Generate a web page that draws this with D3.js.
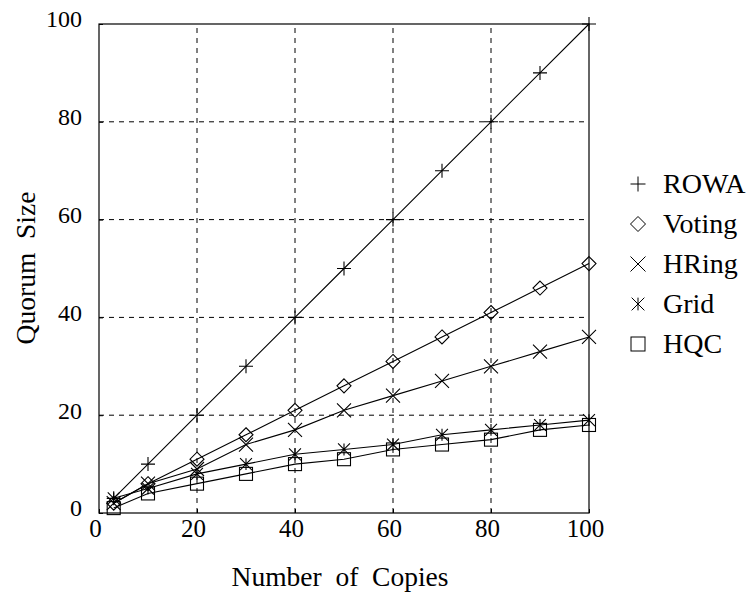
<!DOCTYPE html>
<html>
<head>
<meta charset="utf-8">
<script src="https://cdn.jsdelivr.net/npm/d3@7"></script>
<style>
  body { margin: 0; background: #fff; }
  svg text { font-family: "Liberation Serif", "Times New Roman", serif; fill: #000; }
</style>
</head>
<body>
<svg id="chart"></svg>
<script>
// ---- data ----
const copies = [3, 10, 20, 30, 40, 50, 60, 70, 80, 90, 100];
const rowa   = [3, 10, 20, 30, 40, 50, 60, 70, 80, 90, 100];
const voting = [2, 6, 11, 16, 21, 26, 31, 36, 41, 46, 51];
const hring  = [2, 6, 9, 14, 17, 21, 24, 27, 30, 33, 36];
const grid   = [3, 5, 8, 10, 12, 13, 14, 16, 17, 18, 19];
const hqc    = [1, 4, 6, 8, 10, 11, 13, 14, 15, 17, 18];

const seriesNames = ["ROWA", "Voting", "HRing", "Grid", "HQC"];
const seriesValues = [rowa, voting, hring, grid, hqc];
const symbols = ["plus", "diamond", "cross", "star", "square"];

const gridTicks = [20, 40, 60, 80];
const axisTicks = [0, 20, 40, 60, 80, 100];

// ---- setup ----
const width = 751, height = 593;
const margin = { top: 24, right: 162, bottom: 80, left: 99 };

const svg = d3.select("#chart").attr("width", width).attr("height", height);

const x = d3.scaleLinear().domain([0, 100]).range([margin.left, width - margin.right]);
const y = d3.scaleLinear().domain([0, 100]).range([height - margin.bottom, margin.top]);

// dashed grid
svg.append("g")
    .selectAll("line")
    .data(gridTicks)
    .join("line")
    .attr("x1", d => x(d)).attr("x2", d => x(d))
    .attr("y1", y(0)).attr("y2", y(100))
    .attr("stroke", "#000").attr("stroke-width", 1)
    .attr("stroke-dasharray", "5,5");

svg.append("g")
    .selectAll("line")
    .data(gridTicks)
    .join("line")
    .attr("x1", x(0)).attr("x2", x(100))
    .attr("y1", d => y(d)).attr("y2", d => y(d))
    .attr("stroke", "#000").attr("stroke-width", 1)
    .attr("stroke-dasharray", "5,5");

// axes (labels + small inner ticks, box drawn separately)
const xAxis = svg.append("g")
    .attr("transform", `translate(0, ${y(0)})`)
    .call(d3.axisBottom(x).tickValues(axisTicks).tickSize(-4).tickPadding(9));

const yAxis = svg.append("g")
    .attr("transform", `translate(${x(0)}, 0)`)
    .call(d3.axisLeft(y).tickValues(axisTicks).tickSize(-4).tickPadding(17));

[xAxis, yAxis].forEach(a => {
    a.select(".domain").remove();
    a.selectAll(".tick line").attr("stroke", "#000");
    a.selectAll("text").attr("fill", "#000");
});
yAxis.selectAll("text").style("font-size", "24px").attr("dy", "0.12em");
xAxis.selectAll("text").style("font-size", "25px").attr("dy", "0.6em").attr("dx", -4);

// plot box
svg.append("rect")
    .attr("x", x(0)).attr("y", y(100))
    .attr("width", x(100) - x(0)).attr("height", y(0) - y(100))
    .attr("fill", "none").attr("stroke", "#000").attr("stroke-width", 1.2);

// ---- markers ----
function drawSymbol(g, type, cx, cy, s) {
    if (type === "plus") {
        g.append("path").attr("d", `M${cx - s},${cy}H${cx + s}M${cx},${cy - s}V${cy + s}`);
    } else if (type === "cross") {
        g.append("path").attr("d", `M${cx - s},${cy - s}L${cx + s},${cy + s}M${cx - s},${cy + s}L${cx + s},${cy - s}`);
    } else if (type === "diamond") {
        g.append("path").attr("d", `M${cx},${cy - s}L${cx + s},${cy}L${cx},${cy + s}L${cx - s},${cy}Z`);
    } else if (type === "square") {
        g.append("rect").attr("x", cx - s + 0.5).attr("y", cy - s + 0.5)
            .attr("width", 2 * s - 1).attr("height", 2 * s - 1);
    } else if (type === "star") {
        const r = s * 0.85;
        g.append("path").attr("d",
            `M${cx},${cy - r}V${cy + r}M${cx - r},${cy - r}L${cx + r},${cy + r}M${cx - r},${cy + r}L${cx + r},${cy - r}`);
    }
}

const line = d3.line().x((d, i) => x(copies[i])).y(d => y(d));

seriesValues.forEach((vals, k) => {
    svg.append("path")
        .datum(vals)
        .attr("d", line)
        .attr("fill", "none")
        .attr("stroke", "#000")
        .attr("stroke-width", 1.1);

    const mg = svg.append("g")
        .attr("fill", "none")
        .attr("stroke", "#000").attr("stroke-width", 1.1);
    vals.forEach((v, i) => drawSymbol(mg, symbols[k], x(copies[i]), y(v), 7));
});

// ---- legend ----
const legend = svg.append("g").attr("transform", "translate(638, 193)");
seriesNames.forEach((name, k) => {
    const item = legend.append("g").attr("transform", `translate(0, ${k * 40})`);
    const mg = item.append("g").attr("fill", "none").attr("stroke", "#000").attr("stroke-width", 1);
    drawSymbol(mg, symbols[k], 0, -9, 7.5);
    item.append("text")
        .attr("x", 25)
        .attr("y", 0)
        .style("font-size", "28px")
        .text(name);
});

// ---- axis titles ----
svg.append("text")
    .attr("x", 340)
    .attr("y", 586)
    .attr("text-anchor", "middle")
    .style("font-size", "27.5px")
    .style("white-space", "pre")
    .text("Number  of  Copies");

svg.append("text")
    .attr("transform", "translate(35, 268) rotate(-90)")
    .attr("text-anchor", "middle")
    .style("font-size", "27.5px")
    .style("white-space", "pre")
    .text("Quorum  Size");
</script>
</body>
</html>
